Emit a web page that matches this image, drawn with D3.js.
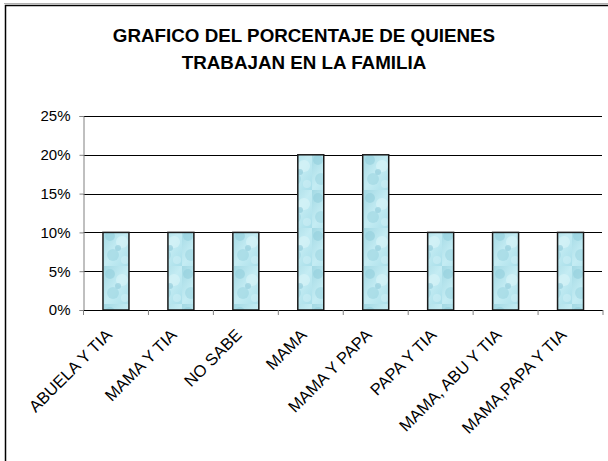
<!DOCTYPE html>
<html>
<head>
<meta charset="utf-8">
<script src="https://cdn.jsdelivr.net/npm/d3@7"></script>
<style>
  body { margin: 0; background: #fff; }
  svg { display: block; font-family: "Liberation Sans", Arial, sans-serif; }
</style>
</head>
<body>
<div id="chart"></div>
<script>
const categories = ["ABUELA Y TIA", "MAMA Y TIA", "NO SABE", "MAMA", "MAMA Y PAPA",
                    "PAPA Y TIA", "MAMA, ABU Y TIA", "MAMA,PAPA Y TIA"];
const values = [10, 10, 10, 20, 20, 10, 10, 10];
const yTicks = [0, 5, 10, 15, 20, 25];
const titleLines = ["GRAFICO DEL PORCENTAJE DE QUIENES", "TRABAJAN EN LA FAMILIA"];

const W = 608, H = 461;
const plotLeft = 83.5, plotRight = 603, plotTop = 116, plotBottom = 310;

let svg = d3.select("#chart").append("svg").attr("width", W).attr("height", H);

// bubbly water texture for the bars
let defs = svg.append("defs");
let grad = defs.append("linearGradient").attr("id", "water").attr("x1", 0).attr("y1", 0).attr("x2", 1).attr("y2", 1);
grad.append("stop").attr("offset", "0%").attr("stop-color", "#a3d9e4");
grad.append("stop").attr("offset", "50%").attr("stop-color", "#c4ecf3");
grad.append("stop").attr("offset", "100%").attr("stop-color", "#aadfea");
let pat = defs.append("pattern").attr("id", "bubbles").attr("patternUnits", "userSpaceOnUse")
    .attr("width", 26).attr("height", 38);
pat.append("rect").attr("width", 26).attr("height", 38).attr("fill", "url(#water)");
[[6, 8, 5, "#93cfdc"], [18, 14, 6, "#dbf5f9"], [9, 27, 6, "#9dd5e1"], [21, 32, 4, "#cdeff5"], [14, 20, 3, "#8fcad8"]]
    .forEach(([cx, cy, r, c]) => {
        pat.append("circle").attr("cx", cx).attr("cy", cy).attr("r", r)
            .attr("fill", c).attr("opacity", 0.6);
    });

// outer frame (cut by the window on right and bottom)
svg.append("line").attr("x1", 4).attr("x2", W).attr("y1", 3.5).attr("y2", 3.5).attr("stroke", "#b0b0b0");
svg.append("rect").attr("x", 5.5).attr("y", 5.5).attr("width", W + 20).attr("height", H + 20)
    .attr("fill", "none").attr("stroke", "#000").attr("stroke-width", 1.5);

// title
svg.append("g").selectAll("text").data(titleLines).join("text")
    .attr("x", 304).attr("y", (d, i) => 42 + i * 27)
    .attr("text-anchor", "middle")
    .attr("font-size", 18.8).attr("font-weight", "bold")
    .text(d => d);

let x = d3.scaleBand().domain(categories).range([plotLeft, plotRight]).paddingInner(0.6).paddingOuter(0.3);
let y = d3.scaleLinear().domain([0, 25]).range([plotBottom, plotTop]);

// gridlines
svg.append("g").selectAll("line").data(yTicks.slice(1)).join("line")
    .attr("x1", plotLeft).attr("x2", plotRight - 1)
    .attr("y1", d => Math.round(y(d)) + 0.5).attr("y2", d => Math.round(y(d)) + 0.5)
    .attr("stroke", "#000");

// y axis
let yAxis = svg.append("g").attr("transform", `translate(${plotLeft},0)`)
    .call(d3.axisLeft(y).tickValues(yTicks).tickSize(4).tickPadding(9).tickFormat(d => d + "%"));
yAxis.select(".domain").attr("stroke", "#808080");
yAxis.selectAll(".tick line").attr("stroke", "#808080");
yAxis.selectAll("text").attr("font-size", 15).attr("font-family", "Liberation Sans, Arial, sans-serif").attr("fill", "#000");

// bars
svg.append("g").selectAll("rect").data(values).join("rect")
    .attr("x", (d, i) => x(categories[i]))
    .attr("y", d => y(d))
    .attr("width", x.bandwidth())
    .attr("height", d => plotBottom - y(d))
    .attr("fill", "url(#bubbles)")
    .attr("stroke", "#1a1a1a").attr("stroke-width", 1.5);

// x axis: ticks between categories
let xAxis = svg.append("g");
xAxis.append("line").attr("x1", plotLeft).attr("x2", plotRight).attr("y1", plotBottom + 0.5).attr("y2", plotBottom + 0.5)
    .attr("stroke", "#000");
let step = x.step();
xAxis.selectAll(".tk").data(d3.range(categories.length + 1)).join("line")
    .attr("class", "tk")
    .attr("x1", i => plotLeft + i * step).attr("x2", i => plotLeft + i * step)
    .attr("y1", plotBottom).attr("y2", plotBottom + 5)
    .attr("stroke", "#808080");

// rotated category labels
xAxis.selectAll("text").data(categories).join("text")
    .attr("transform", d => `translate(${x(d) + x.bandwidth() / 2 - 3},${plotBottom + 26}) rotate(-45)`)
    .attr("text-anchor", "end")
    .attr("font-size", 16.5)
    .text(d => d);
</script>
</body>
</html>
